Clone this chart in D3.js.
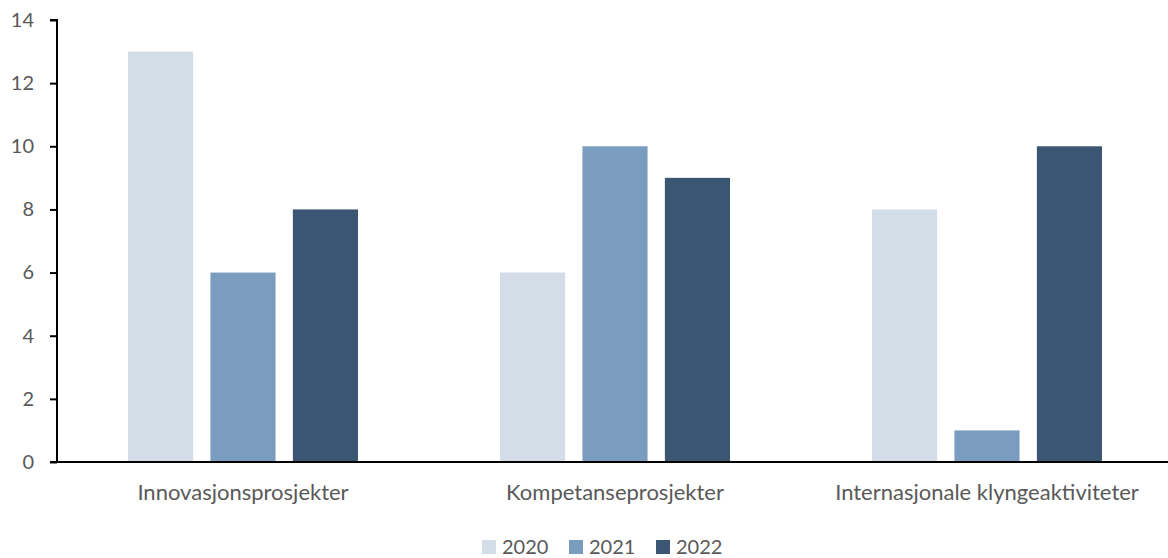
<!DOCTYPE html>
<html><head><meta charset="utf-8">
<script src="https://cdn.jsdelivr.net/npm/d3@7"></script>
<style>body{margin:0;background:#fff}svg{display:block}text{font-family:Lato,"Open Sans",sans-serif;fill:#595959}</style>
</head><body><svg id="c" width="1168" height="558"></svg>
<script>
const categories = ["Innovasjonsprosjekter","Kompetanseprosjekter","Internasjonale klyngeaktiviteter"];
const years = ["2020","2021","2022"];
const values2020 = [13,6,8];
const values2021 = [6,10,1];
const values2022 = [8,9,10];
const yTicks = [0,2,4,6,8,10,12,14];
const colors = ["#D3DDE8","#7A9CBF","#3A5673"];

const series = [values2020, values2021, values2022];
const svg = d3.select("#c");
const W = 1168, H = 558, L = 57;
const x0 = d3.scaleBand().domain(categories).range([L, L + 372*3]).paddingInner(0).paddingOuter(0);
const groupW = 230;
const x1 = d3.scaleBand().domain(years).range([0, groupW]).paddingInner(0.21).paddingOuter(0);
const y = d3.scaleLinear().domain([0,14]).range([462, 20]);

const g = svg.append("g");
categories.forEach((c,i)=>{
  const off = x0(c) + (x0.bandwidth()-groupW)/2;
  years.forEach((yr,j)=>{
    g.append("rect").attr("x", off + x1(yr)).attr("width", x1.bandwidth())
      .attr("y", y(series[j][i])).attr("height", y(0)-y(series[j][i])).attr("fill", colors[j]);
  });
});

const ya = svg.append("g").attr("transform",`translate(${L},0)`)
  .call(d3.axisLeft(y).tickValues(yTicks).tickSize(7).tickPadding(16));
ya.select(".domain").attr("stroke","#000").attr("stroke-width",2).attr("d",`M-7,${y(14)}H0V${y(0)}`);
ya.selectAll(".tick line").attr("stroke","#000").attr("stroke-width",2);
ya.selectAll(".tick text").style("font-size","20px").attr("fill","#595959");

const xa = svg.append("g").attr("transform",`translate(0,${y(0)})`)
  .call(d3.axisBottom(x0).tickSize(0).tickPadding(22.5));
xa.select(".domain").attr("stroke","#000").attr("stroke-width",2).attr("d",`M${L-7},0H${W}`);
xa.selectAll(".tick text").style("font-size","22px").attr("fill","#595959");

const leg = svg.append("g");
const lx = [482, 569, 656];
years.forEach((yr,j)=>{
  leg.append("rect").attr("x",lx[j]).attr("y",540).attr("width",14).attr("height",14).attr("fill",colors[j]);
  leg.append("text").attr("x",lx[j]+20).attr("y",554).style("font-size","20px").text(yr);
});
</script></body></html>
